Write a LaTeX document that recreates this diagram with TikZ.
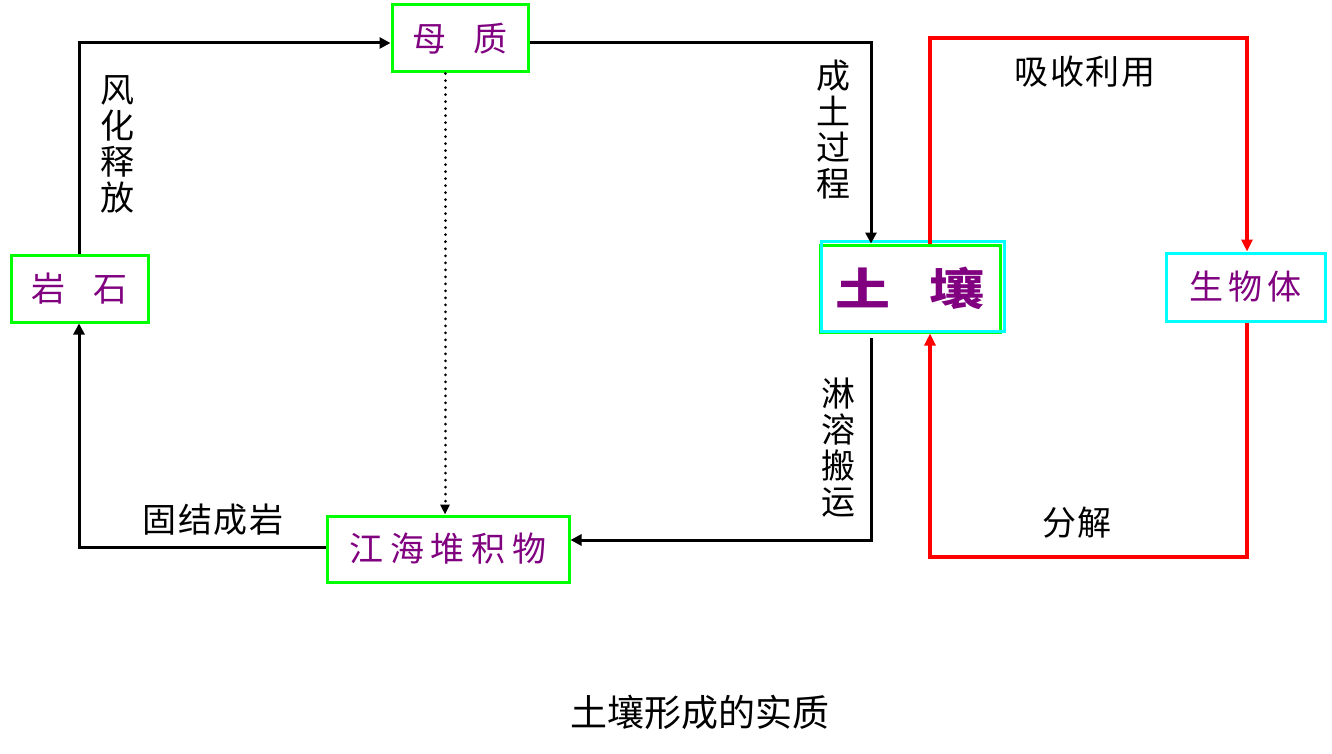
\documentclass[tikz,border=0pt]{standalone}
\usepackage{fontspec}
\newfontfamily\cjk{Noto Sans CJK SC}
\usetikzlibrary{arrows.meta}
\definecolor{boxtext}{RGB}{128,0,128}
\definecolor{bgreen}{RGB}{0,255,0}
\definecolor{bcyan}{RGB}{0,255,255}
\definecolor{lred}{RGB}{255,0,0}
\tikzset{
  gbox/.style={draw=bgreen, line width=3pt, fill=white, inner sep=0pt, text=boxtext,
    font=\cjk\fontsize{34}{38}\selectfont},
  cbox/.style={gbox, draw=bcyan},
  flow/.style={line width=3pt, -{Triangle[length=11pt,width=11pt]}},
  rflow/.style={line width=3.5pt, draw=lred, -{Triangle[length=12pt,width=11pt]}},
  lab/.style={font=\cjk\fontsize{34}{36}\selectfont, align=center, inner sep=0pt},
}
\begin{document}
\begin{tikzpicture}[x=1pt,y=-1pt]
\useasboundingbox (0,0) rectangle (1332,754);
% nodes
\node[gbox, minimum width=137pt, minimum height=67pt] (rock) at (79.5,288.5) {岩\hspace{0.8em}石};
\node[gbox, minimum width=136pt, minimum height=67pt] (parent) at (460,38.5) {母\hspace{0.8em}质};
\node[gbox, minimum width=242pt, minimum height=66pt] (sed) at (448,549) {江\hspace{0.2em}海\hspace{0.2em}堆\hspace{0.2em}积\hspace{0.2em}物};
\node[gbox, minimum width=180pt, minimum height=87pt, font=\cjk\bfseries\fontsize{44}{48}\selectfont] (soil) at (910,288.5) {\scalebox{1.25}[1]{土}\hspace{0.9em}\scalebox{1.25}[1]{壤}};
\draw[bcyan, line width=3pt] ([shift={(2.5,-2)}]soil.south west) rectangle ([shift={(2.5,-2)}]soil.north east);
\node[cbox, minimum width=159pt, minimum height=68pt] (bio) at (1245.5,287) {生\hspace{0.15em}物\hspace{0.15em}体};
% black cycle
\coordinate (c1) at (79,43);
\coordinate (c2) at (871,43);
\coordinate (c3) at (871,338);
\coordinate (c4) at (871,540);
\coordinate (c5) at (79,547);
\draw[flow] (rock.north -| c1) -- (c1) -- (parent.west |- c1);
\draw[flow] (parent.east |- c2) -- (c2) -- (soil.north -| c2);
\draw[flow] (c3) -- (c4) -- (sed.east |- c4);
\draw[flow] (sed.west |- c5) -- (c5) -- (rock.south -| c5);
\draw[line width=3pt, line cap=round, dash pattern=on 0.01pt off 7pt, -{Triangle[length=10pt,width=9pt]}] (parent.south -| 445,0) -- (sed.north -| 445,0);
% red cycle
\coordinate (r1) at (930,38);
\coordinate (r2) at (1247,38);
\coordinate (r3) at (1247,557);
\coordinate (r4) at (930,557);
\draw[rflow] (soil.north -| r1) -- (r1) -- (r2) -- (bio.north -| r2);
\draw[rflow] (bio.south -| r3) -- (r3) -- (r4) -- (soil.south -| r4);
% labels
\node[lab] (l1) at (117,144) {风\\化\\释\\放};
\node[lab] (l2) at (833,130) {成\\土\\过\\程};
\node[lab] (l3) at (838,448) {淋\\溶\\搬\\运};
\node[lab] (l4) at (213,520) {固\hspace{0.05em}结\hspace{0.05em}成\hspace{0.05em}岩};
\node[lab] (l5) at (1085,72) {吸\hspace{0.05em}收\hspace{0.05em}利\hspace{0.05em}用};
\node[lab] (l6) at (1077,523) {分\hspace{0.05em}解};
\node[lab, font=\cjk\fontsize{37}{40}\selectfont] (title) at (700,712) {土壤形成的实质};
\end{tikzpicture}
\end{document}
